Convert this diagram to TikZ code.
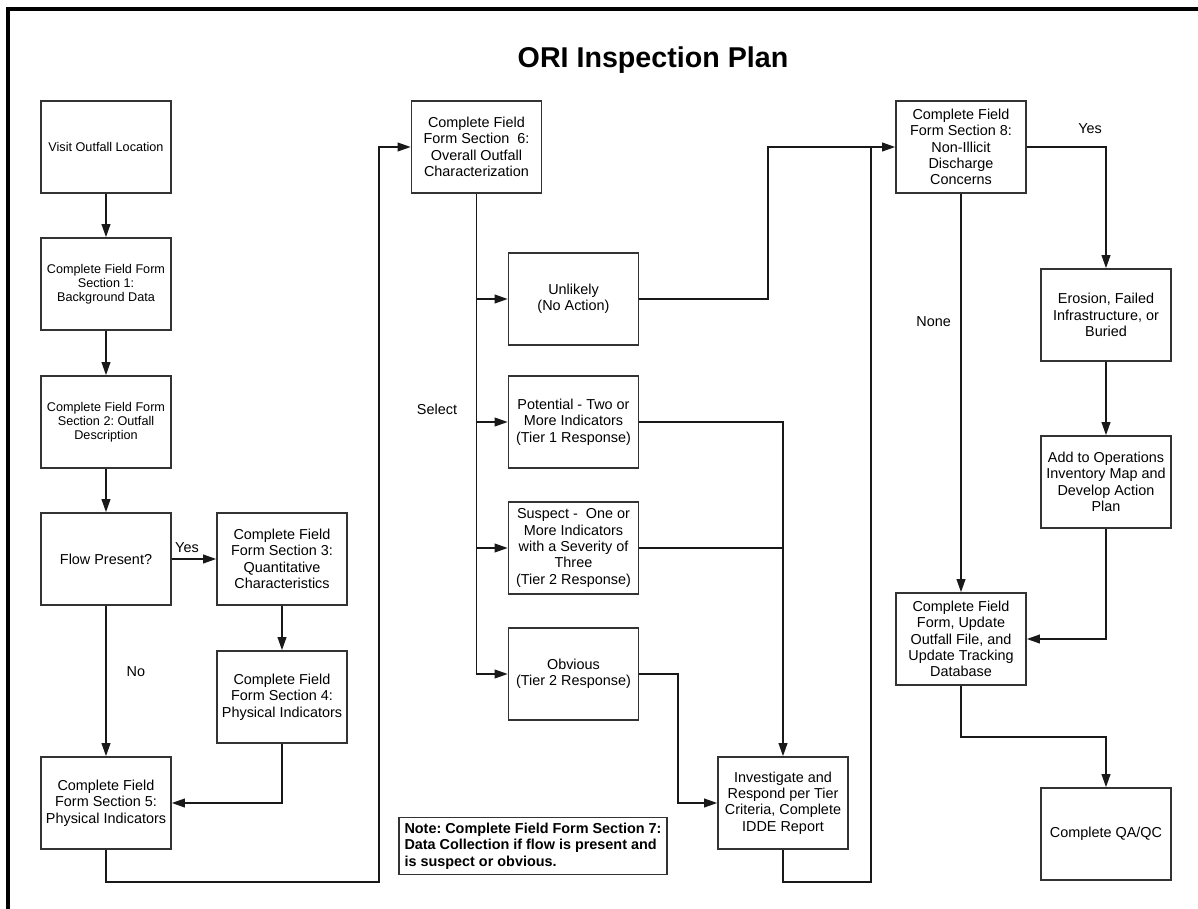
\documentclass[tikz,border=0pt]{standalone}
\usepackage{fontspec}
\setmainfont{Liberation Sans}
\usetikzlibrary{arrows.meta,calc}
\definecolor{BoxClr}{rgb}{0.2,0.2,0.2}
\definecolor{LineClr}{rgb}{0.1,0.1,0.1}
\frenchspacing

\begin{document}
\begin{tikzpicture}[x=0.02cm,y=-0.02cm,
  box/.style={draw=BoxClr,line width=0.9pt,minimum width=2.6cm,minimum height=1.84cm,
    align=center,inner sep=2pt,font=\fontsize{8.2}{9.3}\selectfont},
  smallbox/.style={box,font=\fontsize{7.2}{8.1}\selectfont},
  arr/.style={draw=LineClr,line width=0.9pt,-{Triangle[length=7.5pt,width=5pt]}},
  lnk/.style={draw=LineClr,line width=0.9pt},
  lbl/.style={font=\fontsize{8.2}{9.3}\selectfont}]
\useasboundingbox (0,0) rectangle (1198,909);
\draw[line width=2.3pt] (8,909) -- (8,9) -- (1198,9);

\node[font=\bfseries\fontsize{16.3}{19}\selectfont] (title) at (653,60) {ORI Inspection Plan};

\node[smallbox] (visit) at (106,147) {Visit Outfall Location};
\node[smallbox] (s1) at (106,284) {Complete Field Form\\Section 1:\\Background Data};
\node[smallbox] (s2) at (106,422) {Complete Field Form\\Section 2: Outfall\\Description};
\node[box] (flow) at (106,559) {Flow Present?};
\node[box] (s3) at (282,559) {Complete Field\\Form Section 3:\\Quantitative\\Characteristics};
\node[box] (s4) at (282,697) {Complete Field\\Form Section 4:\\Physical Indicators};
\node[box] (s5) at (106,803) {Complete Field\\Form Section 5:\\Physical Indicators};

\node[box] (s6) at (476.5,147) {Complete Field\\Form Section~ 6:\\Overall Outfall\\Characterization};
\node[box] (unlikely) at (573.5,299) {Unlikely\\(No Action)};
\node[box] (potential) at (573.5,422) {Potential - Two or\\More Indicators\\(Tier 1 Response)};
\node[box] (suspect) at (573.5,548) {Suspect -~ One or\\More Indicators\\with a Severity of\\Three\\(Tier 2 Response)};
\node[box] (obvious) at (573.5,674) {Obvious\\(Tier 2 Response)};
\node[box] (invest) at (783,803) {Investigate and\\Respond per Tier\\Criteria, Complete\\IDDE Report};
\node[lbl] (select) at (437,409) {Select};
\node[draw=BoxClr,line width=0.9pt,align=left,inner sep=3pt,
  font=\bfseries\fontsize{8.2}{9.5}\selectfont] (note) at (533,846)
  {Note: Complete Field Form Section 7:\\Data Collection if flow is present and\\is suspect or obvious.};

\node[box] (s8) at (961,147) {Complete Field\\Form Section 8:\\Non-Illicit\\Discharge\\Concerns};
\node[box] (erosion) at (1106,315) {Erosion, Failed\\Infrastructure, or\\Buried};
\node[box] (addops) at (1106,482) {Add to Operations\\Inventory Map and\\Develop Action\\Plan};
\node[box] (update) at (961,639) {Complete Field\\Form, Update\\Outfall File, and\\Update Tracking\\Database};
\node[box] (qaqc) at (1106,834) {Complete QA/QC};

\draw[arr] (visit) -- (s1);
\draw[arr] (s1) -- (s2);
\draw[arr] (s2) -- (flow);
\draw[arr] (flow) -- node[lbl,above,xshift=-4pt]{Yes} (s3);
\draw[arr] (flow) -- node[lbl,pos=.44,right=8pt]{No} (s5);
\draw[arr] (s3) -- (s4);
\draw[arr] (s4) |- (s5);
\draw[arr] (s5.south) -- ++(0,32) -| (379,147) -- (s6.west);

\draw[arr] (s6.south) |- (unlikely.west);
\draw[arr] (s6.south) |- (potential.west);
\draw[arr] (s6.south) |- (suspect.west);
\draw[arr] (s6.south) |- (obvious.west);
\draw[arr] (potential.east) -| (invest.north);
\draw[lnk] (suspect.east) -- (suspect.east -| invest.north);
\draw[arr] (obvious.east) -- (678,674) |- (invest.west);

\coordinate (join) at (871,147);
\draw[arr] (unlikely.east) -- (768,299) |- (s8.west);
\draw[lnk] (invest.south) -- ++(0,32) -| (join);

\draw[arr] (s8.east) -| node[lbl,pos=.4,above=4pt]{Yes} (erosion.north);
\draw[arr] (erosion) -- (addops);
\draw[arr] (addops.south) |- (update.east);
\draw[arr] (s8) -- node[lbl,pos=.32,left=2pt]{None} (update);
\draw[arr] (update.south) -- ++(0,51) -| (qaqc.north);

\end{tikzpicture}
\end{document}
